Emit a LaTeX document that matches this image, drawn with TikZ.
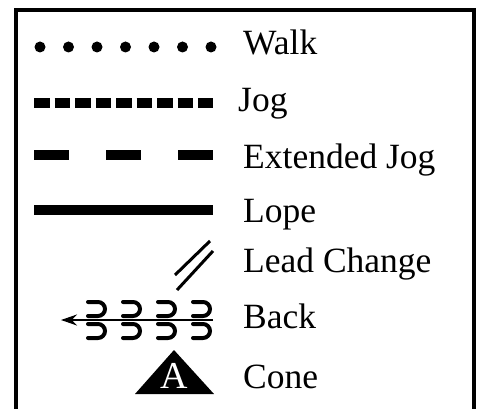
\documentclass[tikz,border=0pt]{standalone}
\usepackage{fontspec}
\setmainfont{Liberation Serif}
\usepackage{tikz}
\usetikzlibrary{arrows.meta}

\begin{document}
\begin{tikzpicture}[x=1pt,y=-1pt,>={Stealth[length=16pt,width=11pt]},
   legend/.style={anchor=base west, inner sep=0pt, font=\fontsize{35.5}{42}\selectfont},
   gait/.style={line width=10pt},
   hoof/.style={line width=4pt, line cap=round}]
   \useasboundingbox (0,0) rectangle (479,409);
   \draw[line width=4pt] (16,410.5) -- (16,10) -- (474,10) -- (474,410.5) -- cycle;
   % labels
   \node[legend] (walk)  at (243,55)  {Walk};
   \node[legend] (jog)   at (238,112) {Jog};
   \node[legend] (xjog)  at (243,168) {Extended Jog};
   \node[legend] (lope)  at (243,222) {Lope};
   \node[legend] (lead)  at (243,272) {Lead Change};
   \node[legend] (back)  at (243,328) {Back};
   \node[legend] (cone)  at (243,388) {Cone};
   % walk
   \foreach \i in {0,...,6}
      \fill (40+28.5*\i,47) circle [radius=5.5pt];
   % jog, extended jog, lope
   \coordinate (jog-l)  at (34,103);
   \coordinate (jog-r)  at (213,103);
   \coordinate (xjog-l) at (34,155);
   \coordinate (xjog-r) at (213,155);
   \coordinate (lope-l) at (34,210);
   \coordinate (lope-r) at (213,210);
   \draw[gait, dash pattern=on 15.5pt off 5pt] (jog-l) -- (jog-r);
   \draw[gait, dash pattern=on 35pt off 37pt] (xjog-l) -- (xjog-r);
   \draw[gait] (lope-l) -- (lope-r);
   % lead change
   \draw[line width=3pt] (175,275) -- (210,241);
   \draw[line width=3pt] (177,290) -- (213,251);
   % back
   \coordinate (back-l) at (61,320);
   \coordinate (back-r) at (213,320);
   \draw[->, line width=2pt] (back-r) -- (back-l);
   \foreach \x in {88,123,158,193} {
      \draw[hoof] (\x,302) -- ++(10,0) arc (90:-90:7pt) -- ++(-10,0);
      \draw[hoof] (\x,324) -- ++(10,0) arc (90:-90:7pt) -- ++(-10,0);
   }
   % cone
   \fill (174,350) -- (214,394) -- (135,394) -- cycle;
   \node[anchor=base, inner sep=0pt, white, font=\fontsize{38}{44}\selectfont] (cone-a) at (174,388) {A};
\end{tikzpicture}
\end{document}
